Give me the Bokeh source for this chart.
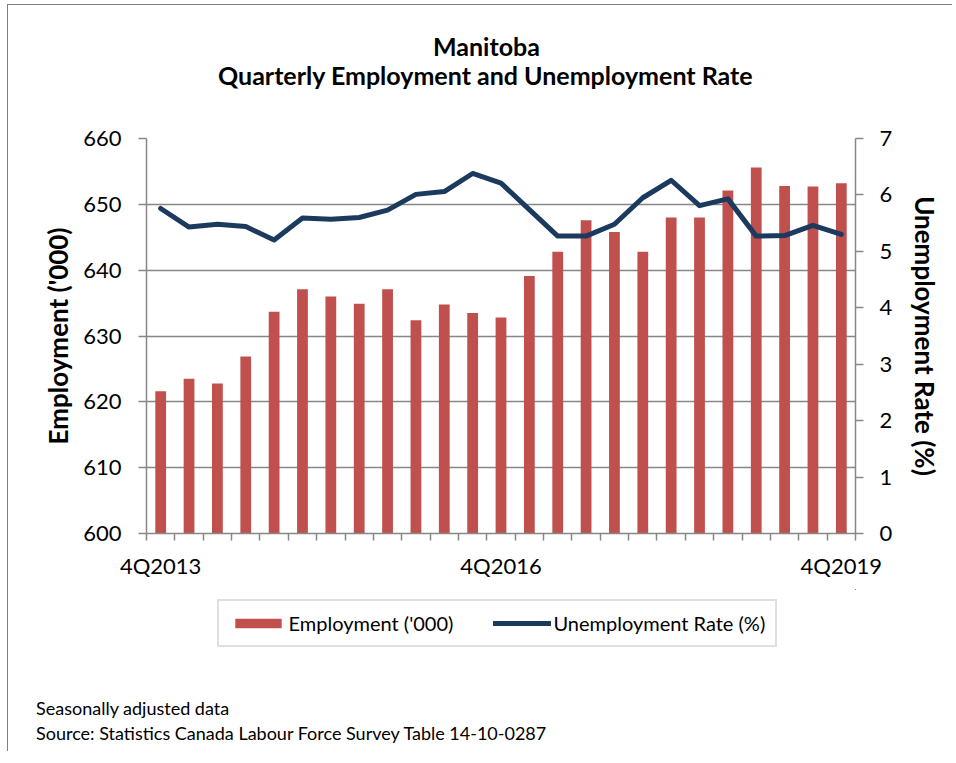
from bokeh.plotting import figure
from bokeh.layouts import column
from bokeh.models import (Range1d, LinearAxis, FixedTicker, Legend, LegendItem,
                          Title, Div)
from bokeh.embed import file_html
from bokeh.resources import INLINE

# ---------------- data ----------------
quarters = ["4Q2013", "1Q2014", "2Q2014", "3Q2014", "4Q2014",
            "1Q2015", "2Q2015", "3Q2015", "4Q2015",
            "1Q2016", "2Q2016", "3Q2016", "4Q2016",
            "1Q2017", "2Q2017", "3Q2017", "4Q2017",
            "1Q2018", "2Q2018", "3Q2018", "4Q2018",
            "1Q2019", "2Q2019", "3Q2019", "4Q2019"]
employment = [621.6, 623.5, 622.8, 626.9, 633.7,
              637.1, 636.0, 634.9, 637.1,
              632.4, 634.8, 633.5, 632.8,
              639.1, 642.8, 647.6, 645.8,
              642.8, 648.0, 648.0, 652.1,
              655.6, 652.8, 652.7, 653.2]
unemployment = [5.76, 5.43, 5.48, 5.44, 5.20,
                5.59, 5.57, 5.60, 5.73,
                6.01, 6.06, 6.38, 6.21,
                5.74, 5.27, 5.27, 5.48,
                5.95, 6.26, 5.81, 5.93,
                5.27, 5.28, 5.46, 5.30]
left_ticks = [600, 610, 620, 630, 640, 650, 660]
right_ticks = [0, 1, 2, 3, 4, 5, 6, 7]
labelled_quarters = ["4Q2013", "4Q2016", "4Q2019"]

title_lines = ["Manitoba", "Quarterly Employment and Unemployment Rate"]
footer_lines = ["Seasonally adjusted data",
                "Source: Statistics Canada Labour Force Survey Table 14-10-0287"]
series_names = ["Employment ('000)", "Unemployment Rate (%)"]

# ---------------- styling ----------------
BAR = "#C0504D"
LINE = "#1B3A5E"
GRID = "#878787"
FONT = "Lato"
BORDER = "1.5px solid #7F7F7F"

x = list(range(len(quarters)))

W, H1, H2 = 945, 585, 70
FL, FR, FT, FB = 138, 847, 133, 528   # frame edges, canvas px of the chart figure
X0, Y0 = 8.5, 5.5                    # page position of the chart canvas
FRAME_LEFT_PAGE = X0 + FL

p = figure(width=W, height=H1, output_backend="svg", toolbar_location=None,
           x_range=Range1d(-0.5, len(quarters) - 0.5),
           y_range=Range1d(left_ticks[0], left_ticks[-1]),
           min_border_left=FL, min_border_right=W - FR,
           min_border_top=FT, min_border_bottom=H1 - FB,
           background_fill_color="white", border_fill_color="white")
p.styles = {"margin-left": "7px", "margin-top": "4px",
            "border-left": BORDER, "border-top": BORDER}
p.outline_line_color = None
p.extra_y_ranges = {"rate": Range1d(right_ticks[0], right_ticks[-1])}

p.vbar(x=x, top=employment, bottom=left_ticks[0], width=0.38,
       fill_color=BAR, line_color=None)
p.line(x=x, y=unemployment, y_range_name="rate", line_color=LINE,
       line_width=5, line_join="round", line_cap="round")

# x axis
xa = p.xaxis[0]
label_pos = [quarters.index(q) for q in labelled_quarters]
xa.ticker = FixedTicker(ticks=label_pos,
                        minor_ticks=[i - 0.5 for i in range(len(quarters) + 1)])
xa.major_label_overrides = {pos: quarters[pos] for pos in label_pos}
xa.axis_line_color = GRID
xa.axis_line_width = 1.5
xa.major_tick_line_color = None
xa.major_tick_out = 0
xa.minor_tick_line_color = GRID
xa.minor_tick_line_width = 1.5
xa.minor_tick_out = 7
xa.minor_tick_in = 0
xa.major_label_standoff = 11
xa.major_label_text_font = FONT
xa.major_label_text_font_size = "22px"
xa.major_label_text_color = "black"

p.xgrid.visible = False
p.ygrid.ticker = FixedTicker(ticks=left_ticks)
p.ygrid.grid_line_color = GRID
p.ygrid.grid_line_width = 1.5

ya = p.yaxis[0]
ya.ticker = FixedTicker(ticks=left_ticks)
ya.axis_label = series_names[0]
ra = LinearAxis(y_range_name="rate", ticker=FixedTicker(ticks=right_ticks),
                axis_label=series_names[1])
p.add_layout(ra, "right")
for ax, ls, st in ((ya, 17, 6), (ra, 16, 14)):
    ax.axis_line_color = GRID
    ax.axis_line_width = 1.5
    ax.major_tick_line_color = GRID
    ax.major_tick_line_width = 1.5
    ax.major_tick_out = 8
    ax.major_tick_in = 0
    ax.minor_tick_line_color = None
    ax.major_label_standoff = ls
    ax.major_label_text_font = FONT
    ax.major_label_text_font_size = "22px"
    ax.major_label_text_color = "black"
    ax.axis_label_text_font = FONT
    ax.axis_label_text_font_style = "bold"
    ax.axis_label_text_font_size = "26px"
    ax.axis_label_text_color = "black"
    ax.axis_label_standoff = st

# title lines (above): spacer closest to the frame, then line 2, then line 1
p.add_layout(Title(text=" ", text_font_size="21px", standoff=23.5), "above")
for txt, left in zip(reversed(title_lines), (218, 433)):
    p.add_layout(Title(text=txt, align="left", offset=left - FRAME_LEFT_PAGE,
                       vertical_align="middle",
                       text_font=FONT, text_font_style="bold",
                       text_font_size="25px", text_color="black", standoff=-3),
                 "above")

# ---------------- legend panel ----------------
q = figure(width=W, height=H2, output_backend="svg", toolbar_location=None,
           x_range=Range1d(-1000, -999), y_range=Range1d(0, 1),
           x_axis_location=None, y_axis_location=None, min_border=0,
           background_fill_color="white", border_fill_color="white")
q.styles = {"margin-left": "7px", "border-left": BORDER}
q.outline_line_color = None
q.grid.visible = False
# same series on this panel's scale (outside its view), so only their legend keys show
qb = q.vbar(x=x, top=employment, bottom=left_ticks[0], width=0.38,
            fill_color=BAR, line_color=None)
ql = q.line(x=x, y=unemployment, line_color=LINE, line_width=5, line_cap="round")

q_bottom_page = Y0 + H1 + H2
legend = Legend(items=[LegendItem(label=series_names[0], renderers=[qb]),
                       LegendItem(label=series_names[1], renderers=[ql])],
                orientation="horizontal",
                location=(217 - FRAME_LEFT_PAGE, q_bottom_page - 648),
                glyph_width=58, glyph_height=12, label_standoff=2, spacing=40,
                padding=10, margin=0,
                border_line_color="#BFBFBF", border_line_width=2,
                background_fill_color="white",
                label_text_font=FONT, label_text_font_size="20px",
                label_text_color="black")
q.add_layout(legend, "center")

# ---------------- footer ----------------
footer = Div(text="<br>".join(footer_lines), width=620, height=92, margin=(0, 0, 0, 7),
             styles={"font-family": FONT, "font-size": "18px", "line-height": "25px",
                     "color": "black", "padding-top": "37px", "padding-left": "28px",
                     "border-left": BORDER, "box-sizing": "border-box"})

layout = column(p, q, footer, spacing=0)
open("out.html", "w").write(file_html(layout, INLINE))
